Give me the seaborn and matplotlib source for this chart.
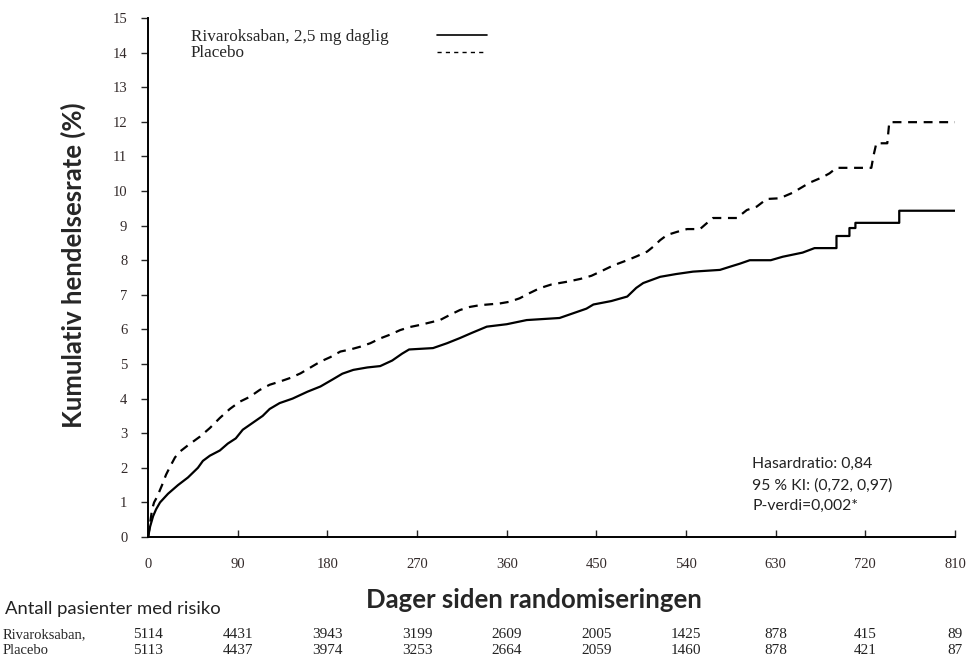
import numpy as np
import pandas as pd
import matplotlib
matplotlib.use('Agg')
import matplotlib.pyplot as plt
import seaborn as sns
from matplotlib.lines import Line2D

# Kaplan-Meier-like cumulative event rate (%)
riva_days = [0, 2, 5, 8, 12, 20, 30, 40, 50, 55, 62, 72, 80, 88, 95, 105, 115, 122, 132,
             145, 160, 173, 185, 195, 206, 220, 233, 245, 255, 262, 286, 300, 313, 325,
             340, 360, 380, 413, 425, 440, 447, 465, 481, 490, 497, 514, 530, 547, 574,
             585, 594, 604, 625, 637, 657, 669, 691, 691, 704, 704, 710, 710, 754, 754, 810]
riva_rate = [0, 0.3, 0.6, 0.8, 1.0, 1.25, 1.5, 1.72, 2.0, 2.2, 2.35, 2.5, 2.7, 2.85, 3.1,
             3.3, 3.5, 3.7, 3.87, 4.0, 4.2, 4.35, 4.55, 4.72, 4.83, 4.9, 4.94, 5.1, 5.3,
             5.42, 5.46, 5.6, 5.75, 5.9, 6.08, 6.15, 6.27, 6.33, 6.45, 6.6, 6.72, 6.82,
             6.95, 7.2, 7.34, 7.52, 7.6, 7.67, 7.72, 7.82, 7.9, 8.0, 8.0, 8.1, 8.22, 8.35,
             8.35, 8.7, 8.7, 8.93, 8.93, 9.08, 9.08, 9.43, 9.43]

plac_days = [0, 2, 4, 6, 9, 14, 18, 22, 27, 32, 40, 52, 62, 72, 82, 92, 102, 112, 122,
             132, 143, 153, 163, 173, 183, 193, 203, 213, 223, 233, 243, 253, 263, 273,
             283, 293, 303, 313, 323, 333, 353, 363, 373, 383, 393, 405, 421, 434, 445,
             454, 467, 481, 491, 501, 507, 514, 521, 531, 541, 554, 560, 567, 591, 601,
             611, 621, 634, 647, 657, 664, 677, 684, 691, 726, 728, 731, 742, 744, 810]
plac_rate = [0, 0.4, 0.8, 1.0, 1.16, 1.5, 1.8, 2.03, 2.3, 2.47, 2.65, 2.9, 3.15, 3.44,
             3.7, 3.91, 4.05, 4.25, 4.4, 4.49, 4.6, 4.73, 4.9, 5.07, 5.2, 5.36, 5.42, 5.5,
             5.6, 5.74, 5.85, 5.98, 6.07, 6.13, 6.2, 6.27, 6.42, 6.56, 6.65, 6.7, 6.75,
             6.8, 6.9, 7.05, 7.19, 7.3, 7.38, 7.46, 7.55, 7.67, 7.85, 8.0, 8.12, 8.25,
             8.39, 8.58, 8.73, 8.82, 8.9, 8.9, 9.05, 9.22, 9.22, 9.45, 9.55, 9.77, 9.79,
             9.95, 10.12, 10.24, 10.4, 10.51, 10.67, 10.67, 11.0, 11.38, 11.38, 11.99, 11.99]

x_ticks = [0, 90, 180, 270, 360, 450, 540, 630, 720, 810]
riva_risk = [5114, 4431, 3943, 3199, 2609, 2005, 1425, 878, 415, 89]
plac_risk = [5113, 4437, 3974, 3253, 2664, 2059, 1460, 878, 421, 87]

riva_label = 'Rivaroksaban, 2,5 mg daglig'
plac_label = 'Placebo'

df_riva = pd.DataFrame({'dag': riva_days, 'rate': riva_rate})
df_plac = pd.DataFrame({'dag': plac_days, 'rate': plac_rate})

sns.set_style('ticks')
plt.rcParams['font.family'] = ['Liberation Serif', 'DejaVu Serif']

fig = plt.figure(figsize=(9.68, 6.58), dpi=100)
ax = fig.add_axes([0.153, 0.1839, 0.8336, 0.7887])

sns.lineplot(data=df_riva, x='dag', y='rate', ax=ax, color='black', lw=1.6,
             estimator=None, sort=False)
sns.lineplot(data=df_plac, x='dag', y='rate', ax=ax, color='black', lw=1.6,
             estimator=None, sort=False, dashes=False)
ax.lines[1].set_dashes((4, 3))

ax.set_xlim(0, 810)
ax.set_ylim(0, 15)
ax.set_xticks(x_ticks)
ax.set_yticks(range(0, 16))
ax.set_xlabel('')
ax.set_ylabel('')
sns.despine(ax=ax)
for s in ['left', 'bottom']:
    ax.spines[s].set_linewidth(1.4)
    ax.spines[s].set_color('black')
ax.tick_params(axis='x', direction='in', length=5, width=1, pad=15,
               labelsize=10.5, labelcolor='#332a2a')
ax.tick_params(axis='y', direction='out', length=5, width=1, pad=10,
               labelsize=10.5, labelcolor='#332a2a')

# axis titles
fig.text(73 / 968, 1 - 265 / 658, 'Kumulativ hendelsesrate (%)', rotation=90,
         ha='center', va='center', fontsize=18.5, fontweight='bold', family='Lato')
fig.text(534 / 968, 1 - 600 / 658, 'Dager siden randomiseringen',
         ha='center', va='center', fontsize=18.5, fontweight='bold', family='Lato')

# legend
fig.text(191 / 968, 1 - 37 / 658, riva_label, ha='left', va='center', fontsize=12.3)
fig.text(191 / 968, 1 - 53 / 658, plac_label, ha='left', va='center', fontsize=12.3)
fig.lines.append(Line2D([437 / 968, 487 / 968], [1 - 35 / 658, 1 - 35 / 658],
                        transform=fig.transFigure, color='black', lw=1.2))
fig.lines.append(Line2D([437 / 968, 487 / 968], [1 - 52 / 658, 1 - 52 / 658],
                        transform=fig.transFigure, color='black', lw=1.0,
                        dashes=(3, 3)))

# statistics
stats = 'Hasardratio: 0,84\n95 % KI: (0,72, 0,97)\nP-verdi=0,002*'
fig.text(752 / 968, 1 - 485 / 658, stats, ha='left', va='center', fontsize=11.3,
         family='Lato', color='#222222', linespacing=1.62)

# number at risk table
fig.text(5 / 968, 1 - 609 / 658, 'Antall pasienter med risiko', ha='left',
         va='center', fontsize=13.3, family='Lato', color='#222222')
fig.text(3 / 968, 1 - 635 / 658, 'Rivaroksaban,', ha='left', va='center', fontsize=10.5)
fig.text(3 / 968, 1 - 651 / 658, 'Placebo', ha='left', va='center', fontsize=10.5)
trans = matplotlib.transforms.blended_transform_factory(ax.transData, fig.transFigure)
for d, r, p in zip(x_ticks, riva_risk, plac_risk):
    ax.text(d, 1 - 635 / 658, str(r), transform=trans, ha='center', va='center',
            fontsize=11, color='#222222')
    ax.text(d, 1 - 651 / 658, str(p), transform=trans, ha='center', va='center',
            fontsize=11, color='#222222')

fig.savefig('out.png', dpi=100)
